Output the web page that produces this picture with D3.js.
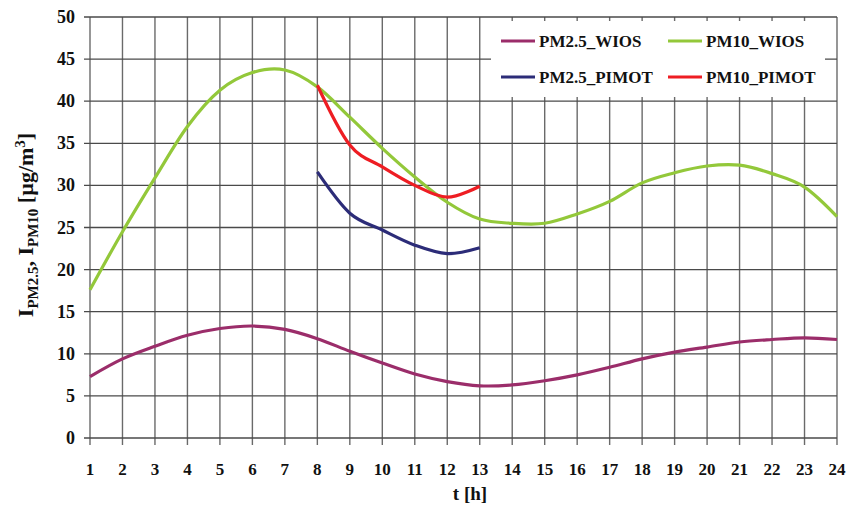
<!DOCTYPE html>
<html>
<head>
<meta charset="utf-8">
<script src="https://cdn.jsdelivr.net/npm/d3@7"></script>
<style>
  body { margin: 0; background: #fff; }
  text { font-family: "Liberation Serif", "Times New Roman", serif; font-weight: bold; fill: #111; }
</style>
</head>
<body>
<div id="chart"></div>
<script>
const hours = d3.range(1, 25);
const pm25Wios = [7.3, 9.4, 10.9, 12.2, 13.0, 13.3, 12.9, 11.8, 10.3, 8.9, 7.6, 6.7, 6.2, 6.3, 6.8, 7.5, 8.4, 9.4, 10.2, 10.8, 11.4, 11.7, 11.9, 11.7];
const pm10Wios = [17.6, 24.5, 30.9, 37.0, 41.3, 43.4, 43.7, 41.7, 38.1, 34.4, 31.0, 28.0, 26.0, 25.5, 25.5, 26.6, 28.1, 30.3, 31.5, 32.3, 32.4, 31.4, 29.8, 26.3];
const pimotHours = [8, 9, 10, 11, 12, 13];
const pm25Pimot = [31.6, 26.7, 24.7, 22.9, 21.9, 22.6];
const pm10Pimot = [41.9, 34.8, 32.2, 30.0, 28.6, 29.9];
const yTicks = d3.range(0, 51, 5);

const series = [
  { name: "PM2.5_WIOS", x: hours, y: pm25Wios, color: "#9b2d6a" },
  { name: "PM10_WIOS", x: hours, y: pm10Wios, color: "#93c83a" },
  { name: "PM2.5_PIMOT", x: pimotHours, y: pm25Pimot, color: "#2c2c78" },
  { name: "PM10_PIMOT", x: pimotHours, y: pm10Pimot, color: "#ee1d23" }
];

const width = 848, height = 511;
const margin = { top: 17, right: 11, bottom: 73, left: 90 };

const svg = d3.select("#chart").append("svg")
    .attr("width", width)
    .attr("height", height);

const x = d3.scaleLinear().domain([1, 24]).range([margin.left, width - margin.right]);
const y = d3.scaleLinear().domain([0, 50]).range([height - margin.bottom, margin.top]);

// grid
svg.append("g")
    .selectAll("line")
    .data(hours)
    .join("line")
      .attr("x1", d => x(d)).attr("x2", d => x(d))
      .attr("y1", y(50)).attr("y2", y(0) + 7)
      .attr("stroke", "#6a6a6a")
      .attr("stroke-width", 1.4);

svg.append("g")
    .selectAll("line")
    .data(yTicks)
    .join("line")
      .attr("x1", x(1) - 6).attr("x2", x(24))
      .attr("y1", d => y(d)).attr("y2", d => y(d))
      .attr("stroke", "#4a4a4a")
      .attr("stroke-width", 1.3);

// tick labels
svg.append("g")
    .selectAll("text")
    .data(yTicks)
    .join("text")
      .attr("x", x(1) - 15)
      .attr("y", d => y(d) + 6)
      .attr("text-anchor", "end")
      .style("font-size", "18px")
      .text(d => d);

svg.append("g")
    .selectAll("text")
    .data(hours)
    .join("text")
      .attr("x", d => x(d))
      .attr("y", y(0) + 37)
      .attr("text-anchor", "middle")
      .style("font-size", "17px")
      .text(d => d);

// axis titles
svg.append("text")
    .attr("x", 470)
    .attr("y", 500)
    .attr("text-anchor", "middle")
    .style("font-size", "19px")
    .text("t [h]");

const yt = svg.append("text")
    .attr("transform", "translate(33,225) rotate(-90)")
    .attr("text-anchor", "middle")
    .style("font-size", "22px");
yt.append("tspan").text("I");
yt.append("tspan").attr("dy", 5).style("font-size", "15px").text("PM2.5");
yt.append("tspan").attr("dy", -5).text(", I");
yt.append("tspan").attr("dy", 5).style("font-size", "15px").text("PM10");
yt.append("tspan").attr("dy", -5).text(" [µg/m");
yt.append("tspan").attr("dy", -8).style("font-size", "15px").text("3");
yt.append("tspan").attr("dy", 8).text("]");

// lines
const line = d3.line()
    .x(d => x(d[0]))
    .y(d => y(d[1]))
    .curve(d3.curveCardinal.tension(0));

svg.append("g")
    .selectAll("path")
    .data(series)
    .join("path")
      .attr("d", s => line(s.x.map((t, i) => [t, s.y[i]])))
      .attr("fill", "none")
      .attr("stroke", s => s.color)
      .attr("stroke-width", 3.2)
      .attr("stroke-linejoin", "round");

// legend
const legend = svg.append("g");
legend.append("rect")
    .attr("x", 491).attr("y", 21)
    .attr("width", 334).attr("height", 76)
    .attr("fill", "#fff");

const item = legend.selectAll("g")
    .data(series)
    .join("g")
      .attr("transform", (d, i) => `translate(${i % 2 ? 668 : 501},${i < 2 ? 41 : 77})`);
item.append("line")
    .attr("x1", 0).attr("x2", 34)
    .attr("stroke", d => d.color)
    .attr("stroke-width", 3.2);
item.append("text")
    .attr("x", 38)
    .attr("y", 6)
    .style("font-size", "17px")
    .text(d => d.name);
</script>
</body>
</html>
